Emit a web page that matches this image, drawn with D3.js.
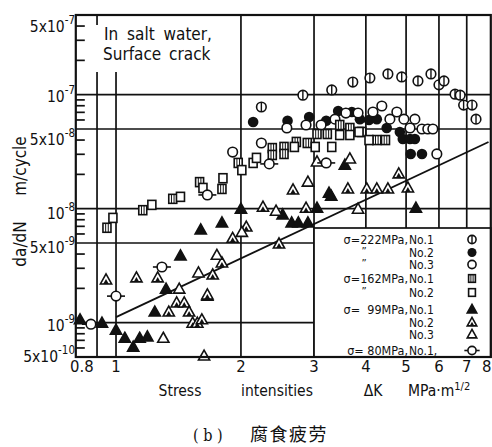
<!DOCTYPE html>
<html>
<head>
    <title>Corrosion fatigue crack growth</title>
    <script src="https://cdnjs.cloudflare.com/ajax/libs/d3/7.8.5/d3.min.js"></script>
    <style>
        body {
            margin: 0;
            background: white;
        }
        svg text {
            font-family: "DejaVu Sans Condensed", "Liberation Sans Narrow", "DejaVu Sans", sans-serif;
            font-stretch: condensed;
            fill: #111;
        }
        .grid {
            stroke: #111;
            stroke-width: 1.7px;
        }
    </style>
</head>
<body>
    <div id="chart"></div>

    <script>
        // Data: [ΔK (MPa·m^1/2), da/dN (m/cycle)]
        const s222no1 = [[2.24,7.8e-8],[2.82,9.9e-8],[3.31,1.10e-7],[3.72,1.29e-7],[4.09,1.40e-7],[4.52,1.52e-7],
            [4.88,1.43e-7],[5.34,1.32e-7],[5.74,1.52e-7],[6.0,1.22e-7],[6.17,1.32e-7],[6.56,1.01e-7],[6.75,9.9e-8],
            [6.88,8.1e-8],[7.21,8.1e-8],[7.37,6.1e-8]];
        const s222no2 = [[2.14,5.76e-8],[2.59,5.9e-8],[2.92,6.37e-8],[3.21,5.9e-8],[3.43,7.2e-8],[3.70,7.05e-8],
            [3.87,6.1e-8],[4.07,6.0e-8],[4.25,6.1e-8],[4.49,5.1e-8],[4.83,4.71e-8],[4.91,4.08e-8],[5.11,4.08e-8],
            [5.25,4.08e-8],[5.13,3.02e-8],[5.46,3.02e-8]];
        const s222no3 = [[1.91,3.14e-8],[2.24,3.77e-8],[2.58,5.1e-8],[2.87,5.42e-8],[3.12,5.42e-8],[3.37,6.1e-8],
            [3.58,6.9e-8],[3.83,6.9e-8],[4.16,7.05e-8],[4.37,7.96e-8],[4.57,6.1e-8],[4.75,7.05e-8],[4.94,6.1e-8],
            [5.25,6.1e-8],[5.11,5.1e-8],[5.46,5.0e-8],[5.64,5.0e-8],[5.80,5.0e-8],[5.93,3.02e-8]];
        const s162no1 = [[0.951,6.8e-9],[1.16,9.7e-9],[1.37,1.22e-8],[1.59,1.71e-8],[1.80,1.49e-8],[1.97,2.52e-8],
            [2.38,3.4e-8],[2.38,2.96e-8],[2.54,3.48e-8],[2.54,3.02e-8],[2.72,3.85e-8],[2.89,3.77e-8],[3.05,4.52e-8],
            [3.23,4.52e-8],[3.46,5.42e-8],[3.66,5.1e-8],[3.91,4.71e-8],[4.25,4.0e-8],[4.46,4.0e-8]];
        const s162no2 = [[0.983,8.3e-9],[1.22,1.08e-8],[1.43,1.27e-8],[1.62,1.52e-8],[1.81,1.85e-8],[2.01,2.18e-8],
            [2.14,2.52e-8],[2.18,2.79e-8],[2.69,3.48e-8],[3.02,3.48e-8],[3.31,3.48e-8],[3.46,4.43e-8],[3.66,4.43e-8],
            [3.85,4.71e-8],[4.07,4.0e-8]];
        const s99no1 = [[0.819,1.06e-9],[0.925,9.9e-10],[1.0,8.6e-10],[1.05,7.3e-10],[1.10,6.1e-10],[1.14,7.3e-10],
            [1.19,7.5e-10],[1.24,1.24e-9],[1.32,1.97e-9],[1.43,3.85e-9],[1.60,6.5e-9],[1.66,1.71e-9],[1.80,7.5e-9],
            [2.0,9.9e-9],[2.52,8.8e-9],[2.65,7.5e-9],[2.75,7.5e-9],[2.90,7.5e-9],[3.05,1.01e-8],[3.26,1.37e-8],
            [3.30,1.29e-8],[3.56,2.41e-8],[5.28,1.01e-8]];
        const s99no2 = [[0.946,2.37e-9],[1.12,2.47e-9],[1.26,2.47e-9],[1.34,1.24e-9],[1.40,1.49e-9],[1.46,1.49e-9],
            [1.50,1.24e-9],[1.53,9.9e-10],[1.57,9.9e-10],[1.61,1.06e-9],[1.66,1.75e-9],[1.71,2.62e-9],[1.80,3.34e-9],
            [1.91,5.5e-9],[2.06,6.9e-9],[2.26,1.03e-8],[2.47,4.9e-9],[2.87,1.01e-8],[2.67,1.46e-8],[3.62,1.49e-8],
            [4.02,1.49e-8],[4.25,1.49e-8],[4.52,1.49e-8],[5.05,1.52e-8],[4.80,2.02e-8]];
        const s99no3 = [[1.30,7.3e-10],[1.63,5.1e-10],[1.42,1.97e-9],[1.58,2.73e-9],[1.75,3.9e-9],[2.01,6.2e-9],
            [2.43,9.5e-9],[3.83,9.9e-9],[3.05,2.57e-8],[3.66,2.73e-8],[2.90,1.71e-8]];
        const s80no1 = [[0.87,9.7e-10],[1.0,1.71e-9],[1.29,3.08e-9],[1.66,1.32e-8],[2.34,2.47e-8],[3.21,2.52e-8]];

        // straight fit line, end points
        const fitLine = [[1.0,1.12e-9],[7.9,3.85e-8]];

        const xTickValues = [0.8, 1, 2, 3, 4, 5, 6, 7, 8];
        const xTickLabels = ["0.8", "1", "2", "3", "4", "5", "6", "7", "8"];
        const xGridValues = [2, 3, 4, 5, 6, 7];
        const xShortGrid = [0.9, 1];
        const yGridValues = [1e-7, 5e-8, 1e-8, 5e-9, 1e-9];
        const yLabelValues = [5e-7, 1e-7, 5e-8, 1e-8, 5e-9, 1e-9, 5e-10];
        const yLabelBase = ["5x10", "10", "5x10", "10", "5x10", "10", "5x10"];
        const yLabelExp = ["-7", "-7", "-8", "-8", "-9", "-9", "-10"];
        const yMinorTicks = [4e-7, 3e-7, 2e-7, 9e-8, 8e-8, 7e-8, 6e-8, 4e-8, 3e-8, 2e-8,
            9e-9, 8e-9, 7e-9, 6e-9, 4e-9, 3e-9, 2e-9, 9e-10, 8e-10, 7e-10, 6e-10];

        const legendLeft = ["σ=222MPa,", "\u201d", "\u201d", "σ=162MPa,", "\u201d", "σ=  99MPa,", "", "", "σ= 80MPa,"];
        const legendRight = ["No.1", "No.2", "No.3", "No.1", "No.2", "No.1", "No.2", "No.3", "No.1,"];
        const legendSymbols = ["circBar", "dot", "circ", "sqBar", "sq", "triFill", "triHalf", "tri", "circLine"];

        const series = [
            { data: s222no1, type: "circBar" },
            { data: s222no2, type: "dot" },
            { data: s222no3, type: "circ" },
            { data: s162no1, type: "sqBar" },
            { data: s162no2, type: "sq" },
            { data: s99no1, type: "triFill" },
            { data: s99no2, type: "triHalf" },
            { data: s99no3, type: "tri" },
            { data: s80no1, type: "circLine" }
        ];

        const width = 492;
        const height = 447;
        const ink = "#111";

        const svg = d3.select("#chart")
            .append("svg")
            .attr("width", width)
            .attr("height", height);

        const x = d3.scaleLog().domain([0.8, 8]).range([75.8, 490.8]);
        const y = d3.scaleLog().domain([5e-10, 5e-7]).range([357, 15]);

        const plotTop = y(5e-7), plotBottom = y(5e-10);
        const plotLeft = x(0.8), plotRight = x(8);

        // grid lines
        const grid = svg.append("g");
        grid.selectAll(".vg").data(xGridValues).enter().append("line")
            .attr("class", "grid")
            .attr("x1", d => x(d)).attr("x2", d => x(d))
            .attr("y1", plotTop).attr("y2", plotBottom);
        grid.selectAll(".vs").data(xShortGrid).enter().append("line")
            .attr("class", "grid")
            .attr("x1", d => x(d)).attr("x2", d => x(d))
            .attr("y1", 72).attr("y2", plotBottom);
        grid.append("line").attr("class", "grid")
            .attr("x1", x(0.9)).attr("x2", x(0.9))
            .attr("y1", plotTop).attr("y2", plotTop + 10);
        grid.selectAll(".hg").data(yGridValues).enter().append("line")
            .attr("class", "grid")
            .attr("x1", plotLeft).attr("x2", plotRight)
            .attr("y1", d => y(d)).attr("y2", d => y(d));

        // minor ticks on the left axis, inside
        grid.selectAll(".mt").data(yMinorTicks).enter().append("line")
            .attr("class", "grid")
            .attr("x1", plotLeft).attr("x2", plotLeft + 9)
            .attr("y1", d => y(d)).attr("y2", d => y(d));

        // fit line
        svg.append("path")
            .datum(fitLine)
            .attr("d", d3.line().x(d => x(d[0])).y(d => y(d[1])))
            .attr("stroke", ink)
            .attr("stroke-width", 1.8)
            .attr("fill", "none");

        // markers
        function drawMarker(g, type, cx, cy, s) {
            s = s || 1;
            const sw = 1.6;
            if (type === "circ" || type === "circBar" || type === "circLine") {
                if (type === "circLine") {
                    g.append("line").attr("x1", cx - 9 * s).attr("x2", cx + 9 * s).attr("y1", cy).attr("y2", cy)
                        .attr("stroke", ink).attr("stroke-width", sw);
                }
                g.append("circle").attr("cx", cx).attr("cy", cy).attr("r", 4.8 * s)
                    .attr("fill", "white").attr("stroke", ink).attr("stroke-width", sw);
                if (type === "circBar") {
                    g.append("line").attr("x1", cx).attr("x2", cx).attr("y1", cy - 4.8 * s).attr("y2", cy + 4.8 * s)
                        .attr("stroke", ink).attr("stroke-width", 1.4);
                }
            } else if (type === "dot") {
                g.append("circle").attr("cx", cx).attr("cy", cy).attr("r", 5.3 * s).attr("fill", ink);
            } else if (type === "sq" || type === "sqBar") {
                const hw = 4 * s, hh = 4.5 * s;
                g.append("rect").attr("x", cx - hw).attr("y", cy - hh).attr("width", 2 * hw).attr("height", 2 * hh)
                    .attr("fill", "white").attr("stroke", ink).attr("stroke-width", sw);
                if (type === "sqBar") {
                    [-1.3, 1.3].forEach(o => {
                        g.append("line").attr("x1", cx + o * s).attr("x2", cx + o * s)
                            .attr("y1", cy - hh).attr("y2", cy + hh)
                            .attr("stroke", ink).attr("stroke-width", 1);
                    });
                }
            } else {
                const h = 10 * s, w = 5.6 * s;
                const tri = `M${cx},${cy - h * 0.6}L${cx + w},${cy + h * 0.4}L${cx - w},${cy + h * 0.4}Z`;
                g.append("path").attr("d", tri)
                    .attr("fill", type === "triFill" ? ink : "white")
                    .attr("stroke", ink).attr("stroke-width", sw).attr("stroke-linejoin", "miter");
                if (type === "triHalf") {
                    const inner = `M${cx},${cy - 1 * s}L${cx + 2.8 * s},${cy + h * 0.4}L${cx - 2.8 * s},${cy + h * 0.4}Z`;
                    g.append("path").attr("d", inner).attr("fill", ink);
                }
            }
        }

        const marks = svg.append("g");
        series.forEach(s => {
            s.data.forEach(d => drawMarker(marks, s.type, x(d[0]), y(d[1])));
        });

        // legend box
        const lg = svg.append("g");
        const lgTop = 228;
        lg.append("rect")
            .attr("x", x(3)).attr("y", lgTop)
            .attr("width", plotRight - x(3)).attr("height", plotBottom - lgTop)
            .attr("fill", "white").attr("stroke", ink).attr("stroke-width", 1.7);
        const rowY = [244, 257, 269, 283, 297, 314, 327, 339, 355];
        legendLeft.forEach((t, i) => {
            if (!t) return;
            const ditto = t === "\u201d";
            lg.append("text")
                .attr("x", ditto ? 364 : 408).attr("y", rowY[i] - (ditto ? 2 : 0))
                .attr("text-anchor", ditto ? "middle" : "end")
                .attr("font-size", ditto ? 11 : 12.5)
                .attr("xml:space", "preserve")
                .text(t);
        });
        legendRight.forEach((t, i) => {
            lg.append("text")
                .attr("x", 409).attr("y", rowY[i])
                .attr("font-size", 12)
                .text(t);
        });
        legendSymbols.forEach((t, i) => drawMarker(lg, t, 472, rowY[i] - 4.5, 0.85));

        // frame
        svg.append("rect")
            .attr("x", plotLeft).attr("y", plotTop)
            .attr("width", plotRight - plotLeft).attr("height", plotBottom - plotTop)
            .attr("fill", "none").attr("stroke", ink).attr("stroke-width", 2.2);

        // note in the corner
        svg.append("text").attr("x", 104).attr("y", 40).attr("font-size", 17)
            .attr("word-spacing", 4).text("In salt water,");
        svg.append("text").attr("x", 103).attr("y", 60).attr("font-size", 17)
            .attr("word-spacing", 3).text("Surface crack");

        // y labels
        const yLabelShift = [17, 7, 16, 10, 10, 8, 5];
        yLabelValues.forEach((v, i) => {
            const t = svg.append("text")
                .attr("x", 75).attr("y", y(v) + yLabelShift[i])
                .attr("text-anchor", "end")
                .attr("font-size", 15.5);
            t.append("tspan").text(yLabelBase[i]);
            t.append("tspan").attr("dy", -8).attr("font-size", 11.5).text(yLabelExp[i]);
        });

        // x labels
        svg.selectAll(".xl").data(xTickValues).enter().append("text")
            .attr("x", (d, i) => x(d) + (i === 0 ? 6 : 0) - (i === xTickValues.length - 1 ? 4 : 0))
            .attr("y", 372)
            .attr("text-anchor", "middle")
            .attr("font-size", 16.5)
            .text((d, i) => xTickLabels[i]);

        // axis titles
        const xt = svg.append("g");
        xt.append("text").attr("x", 180).attr("y", 396).attr("text-anchor", "middle").attr("font-size", 15.5).text("Stress");
        xt.append("text").attr("x", 277).attr("y", 396).attr("text-anchor", "middle").attr("font-size", 15.5).text("intensities");
        xt.append("text").attr("x", 373).attr("y", 396).attr("text-anchor", "middle").attr("font-size", 15.5).text("ΔK");
        const mpa = xt.append("text").attr("x", 408).attr("y", 396).attr("font-size", 15.5);
        mpa.append("tspan").text("MPa·m");
        mpa.append("tspan").attr("dy", -6).attr("font-size", 11).text("1/2");

        svg.append("text")
            .attr("transform", "translate(26,166) rotate(-90)")
            .attr("text-anchor", "middle").attr("font-size", 17).text("m/cycle");
        svg.append("text")
            .attr("transform", "translate(26,244) rotate(-90)")
            .attr("text-anchor", "middle").attr("font-size", 17).text("da/dN");

        // caption
        svg.append("text")
            .attr("x", 193).attr("y", 441)
            .style("font-family", "'DejaVu Serif', 'Liberation Serif', serif")
            .attr("font-size", 16)
            .attr("xml:space", "preserve")
            .text("( b )");
        svg.append("text")
            .attr("x", 250).attr("y", 441)
            .style("font-family", "'Noto Sans CJK SC', sans-serif")
            .attr("font-size", 18)
            .attr("letter-spacing", 1.5)
            .text("腐食疲劳");
    </script>
</body>
</html>
